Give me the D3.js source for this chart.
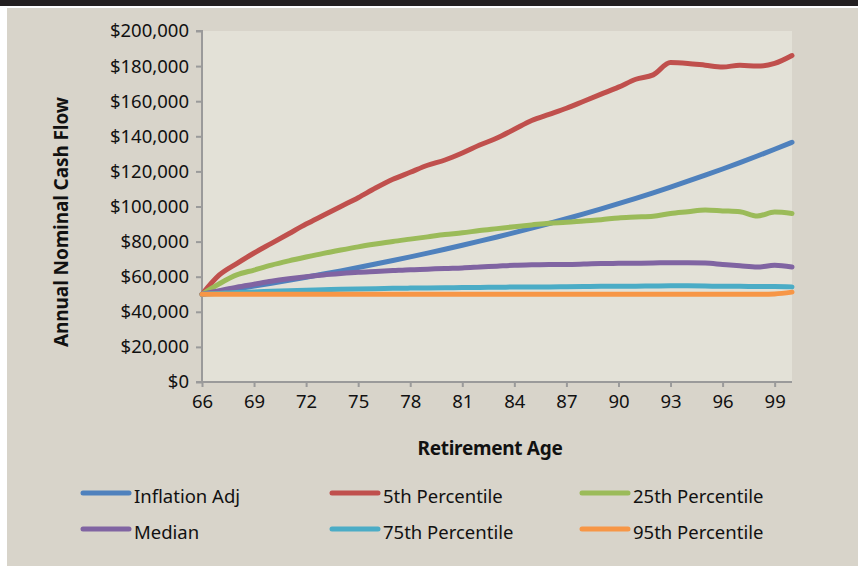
<!DOCTYPE html>
<html>
<head>
<meta charset="utf-8">
<script src="https://cdn.jsdelivr.net/npm/d3@7"></script>
<style>
  html, body { margin: 0; padding: 0; background: #ffffff; }
  svg { display: block; }
  text { font-family: "Noto Sans", "Open Sans", sans-serif; fill: #111; }
</style>
</head>
<body>
<svg id="chart" width="858" height="566"></svg>
<script>
// ---- data ----
const ages = [66,67,68,69,70,71,72,73,74,75,76,77,78,79,80,81,82,83,84,85,86,87,88,89,90,91,92,93,94,95,96,97,98,99,100];
const inflationAdj = [50000,51500,53045,54636,56275,57964,59703,61494,63339,65239,67196,69212,71288,73427,75629,77898,80235,82642,85122,87675,90306,93015,95805,98679,101640,104689,107830,111064,114396,117828,121363,125004,128754,132617,136595];
const pct5 = [50000,61000,67500,73500,79000,84500,90000,95000,100000,105000,110500,115500,119500,123500,126500,130500,135000,139000,144000,149000,152500,156000,160000,164000,168000,172500,175000,182000,181500,180500,179500,180500,180000,181500,186000];
const pct25 = [50000,56000,61000,63800,66600,69000,71200,73300,75200,77000,78600,80100,81400,82700,84000,85000,86300,87400,88500,89500,90500,91000,91800,92500,93500,94000,94500,96000,97000,98000,97500,97000,94600,96800,96000];
const median = [50000,52000,54000,55700,57400,58800,60000,61000,61800,62500,63000,63500,64000,64300,64700,65000,65500,66000,66500,66800,67000,67000,67200,67500,67600,67700,67800,68000,68000,67800,67000,66200,65500,66500,65500];
const pct75 = [50000,50500,51000,51300,51700,52000,52300,52600,52800,53000,53200,53400,53500,53600,53700,53800,53900,54000,54100,54200,54200,54300,54400,54500,54500,54600,54700,54800,54800,54700,54500,54500,54400,54400,54200];
const pct95 = [50000,50000,50000,50000,50000,50000,50000,50000,50000,50000,50000,50000,50000,50000,50000,50000,50000,50000,50000,50000,50000,50000,50000,50000,50000,50000,50000,50000,50000,50000,50000,50000,50000,50200,51200];
const seriesNames = ["Inflation Adj","5th Percentile","25th Percentile","Median","75th Percentile","95th Percentile"];
const seriesColors = ["#4F81BD","#C0504D","#9BBB59","#8064A2","#4BACC6","#F79646"];
const seriesValues = [inflationAdj, pct5, pct25, median, pct75, pct95];
const xTicks = [66,69,72,75,78,81,84,87,90,93,96,99];
const yTicks = [0,20000,40000,60000,80000,100000,120000,140000,160000,180000,200000];

// ---- layout ----
const svg = d3.select("#chart");
const W = 858, H = 566;
const plot = {left: 202, right: 792, top: 31, bottom: 382};

svg.append("rect").attr("x",0).attr("y",0).attr("width",W).attr("height",H).attr("fill","#ffffff");
svg.append("rect").attr("x",0).attr("y",0).attr("width",W).attr("height",6).attr("fill","#231F20");
svg.append("rect").attr("x",7).attr("y",8).attr("width",W-7).attr("height",H-8).attr("fill","#D8D4CA");
svg.append("rect").attr("x",plot.left).attr("y",plot.top)
  .attr("width",plot.right-plot.left).attr("height",plot.bottom-plot.top).attr("fill","#E3E1D7");

const x = d3.scaleLinear().domain([66,100]).range([plot.left, plot.right]);
const y = d3.scaleLinear().domain([0,200000]).range([plot.bottom, plot.top]);

// y axis
const yAxis = svg.append("g").attr("transform",`translate(${plot.left},0)`)
  .call(d3.axisLeft(y).tickValues(yTicks).tickSize(6).tickPadding(7)
    .tickFormat(d => "$" + d3.format(",")(d)));
yAxis.select(".domain").attr("stroke","#9A9A9A").attr("stroke-width",2)
  .attr("d", `M-6,${plot.top}H0V${plot.bottom}`);
yAxis.selectAll(".tick line").attr("stroke","#9A9A9A").attr("stroke-width",2);
yAxis.selectAll(".tick text").attr("font-size",18.5).attr("fill","#111")
  .style("font-family",'"Noto Sans", sans-serif');

// x axis
const xAxis = svg.append("g").attr("transform",`translate(0,${plot.bottom})`)
  .call(d3.axisBottom(x).tickValues(xTicks).tickSize(5).tickPadding(8).tickFormat(d3.format("d")));
xAxis.select(".domain").attr("stroke","#9A9A9A").attr("stroke-width",2)
  .attr("d", `M${plot.left-6},0H${plot.right}`);
xAxis.selectAll(".tick line").attr("stroke","#9A9A9A").attr("stroke-width",2);
xAxis.selectAll(".tick text").attr("font-size",18.5).attr("fill","#111")
  .style("font-family",'"Noto Sans", sans-serif');

// lines
const line = d3.line().x((d,i) => x(ages[i])).y(d => y(d)).curve(d3.curveMonotoneX);
const linesG = svg.append("g");
seriesValues.forEach((vals, k) => {
  linesG.append("path").datum(vals).attr("d", line)
    .attr("fill","none").attr("stroke",seriesColors[k]).attr("stroke-width",5)
    .attr("stroke-linecap","round").attr("stroke-linejoin","round");
});

// axis titles
svg.append("text").attr("x",490).attr("y",455).attr("text-anchor","middle")
  .attr("font-size",19).attr("font-weight","bold").attr("letter-spacing","-0.3")
  .text("Retirement Age");
svg.append("text").attr("transform","translate(68,222) rotate(-90)").attr("text-anchor","middle")
  .attr("font-size",19).attr("font-weight","bold").attr("letter-spacing","-0.1")
  .text("Annual Nominal Cash Flow");

// legend
const legCols = [81, 330, 580];
const legRows = [493, 529];
seriesNames.forEach((name, k) => {
  const cx = legCols[k % 3], cy = legRows[Math.floor(k / 3)];
  svg.append("line").attr("x1",cx+2).attr("x2",cx+48).attr("y1",cy).attr("y2",cy)
    .attr("stroke",seriesColors[k]).attr("stroke-width",5).attr("stroke-linecap","round");
  svg.append("text").attr("x",cx+53).attr("y",cy+10).attr("font-size",18.5).text(name);
});
</script>
</body>
</html>
